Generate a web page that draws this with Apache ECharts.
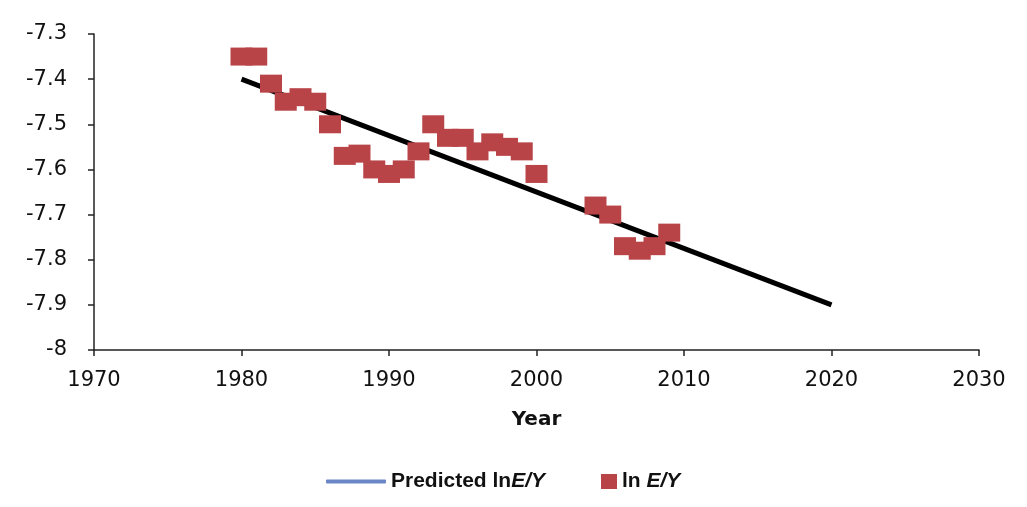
<!DOCTYPE html>
<html>
<head>
    <meta charset="utf-8">
    <title>ln E/Y</title>
    <script src="https://cdn.jsdelivr.net/npm/echarts@6/dist/echarts.min.js"></script>
    <style>
        html, body { margin: 0; padding: 0; background: #fff; }
    </style>
</head>
<body>
    <div id="main" style="width: 1027px;height:507px;"></div>
    <script type="text/javascript">
        var years = [1980, 1981, 1982, 1983, 1984, 1985, 1986, 1987, 1988, 1989,
                     1990, 1991, 1992, 1993, 1994, 1995, 1996, 1997, 1998, 1999,
                     2000, 2004, 2005, 2006, 2007, 2008, 2009];
        var lnEY = [-7.35, -7.35, -7.41, -7.45, -7.44, -7.45, -7.50, -7.57, -7.565, -7.60,
                    -7.61, -7.60, -7.56, -7.50, -7.53, -7.53, -7.56, -7.54, -7.55, -7.56,
                    -7.61, -7.68, -7.70, -7.77, -7.78, -7.77, -7.74];
        // fitted trend end points
        var predYears = [1980, 2020];
        var predicted = [-7.40, -7.90];

        var myChart = echarts.init(document.getElementById('main'));

        var labelFont = { fontFamily: 'DejaVu Sans', fontSize: 21, color: '#111' };
        var legendText = {
            fontFamily: 'Liberation Sans', fontWeight: 'bold', fontSize: 21, color: '#111',
            rich: {
                n: { fontFamily: 'Liberation Sans', fontWeight: 'bold', fontSize: 21, color: '#111' },
                i: { fontFamily: 'Liberation Sans', fontWeight: 'bold', fontStyle: 'italic', fontSize: 21, color: '#111' }
            }
        };
        function legendFormatter(name) {
            return name === 'Predicted lnE/Y' ? '{n|Predicted ln}{i|E/Y}' : '{n|ln }{i|E/Y}';
        }

        var option = {
            animation: false,
            backgroundColor: '#fff',
            grid: { left: 94, right: 48, top: 34, bottom: 157, containLabel: false },
            xAxis: {
                type: 'value',
                min: 1970, max: 2030, interval: 10,
                name: 'Year',
                nameLocation: 'middle',
                nameGap: 60,
                nameTextStyle: { fontFamily: 'DejaVu Sans', fontWeight: 'bold', fontSize: 20, color: '#111' },
                axisLine: { lineStyle: { color: '#222', width: 1.5 } },
                axisTick: { show: true, inside: false, length: 6, lineStyle: { color: '#222', width: 1.5 } },
                axisLabel: Object.assign({
                    margin: 20,
                    formatter: function (v) { return String(v); }
                }, labelFont),
                splitLine: { show: false }
            },
            yAxis: {
                type: 'value',
                min: -8, max: -7.3, interval: 0.1,
                axisLine: { show: true, lineStyle: { color: '#222', width: 1.5 } },
                axisTick: { show: true, inside: false, length: 6, lineStyle: { color: '#222', width: 1.5 } },
                axisLabel: Object.assign({
                    margin: 27,
                    formatter: function (v) { return String(Math.round(v * 10) / 10); }
                }, labelFont),
                splitLine: { show: false }
            },
            legend: [
                {
                    top: 466,
                    left: 321,
                    itemWidth: 60,
                    itemHeight: 4,
                    textStyle: legendText,
                    formatter: legendFormatter,
                    data: [{ name: 'Predicted lnE/Y', icon: 'roundRect', itemStyle: { color: '#6a86c6' } }]
                },
                {
                    top: 466,
                    left: 596,
                    itemWidth: 16,
                    itemHeight: 15,
                    textStyle: legendText,
                    formatter: legendFormatter,
                    data: [{ name: 'ln E/Y', icon: 'rect' }]
                }
            ],
            series: [
                {
                    name: 'Predicted lnE/Y',
                    type: 'line',
                    symbol: 'none',
                    z: 2,
                    lineStyle: { color: '#000', width: 5 },
                    itemStyle: { color: '#6a86c6' },
                    data: predYears.map(function (y, i) { return [y, predicted[i]]; })
                },
                {
                    name: 'ln E/Y',
                    type: 'scatter',
                    symbol: 'rect',
                    symbolSize: [22, 18],
                    z: 3,
                    itemStyle: { color: '#b94448', opacity: 1 },
                    data: years.map(function (y, i) { return [y, lnEY[i]]; })
                }
            ]
        };

        myChart.setOption(option);
    </script>
</body>
</html>
